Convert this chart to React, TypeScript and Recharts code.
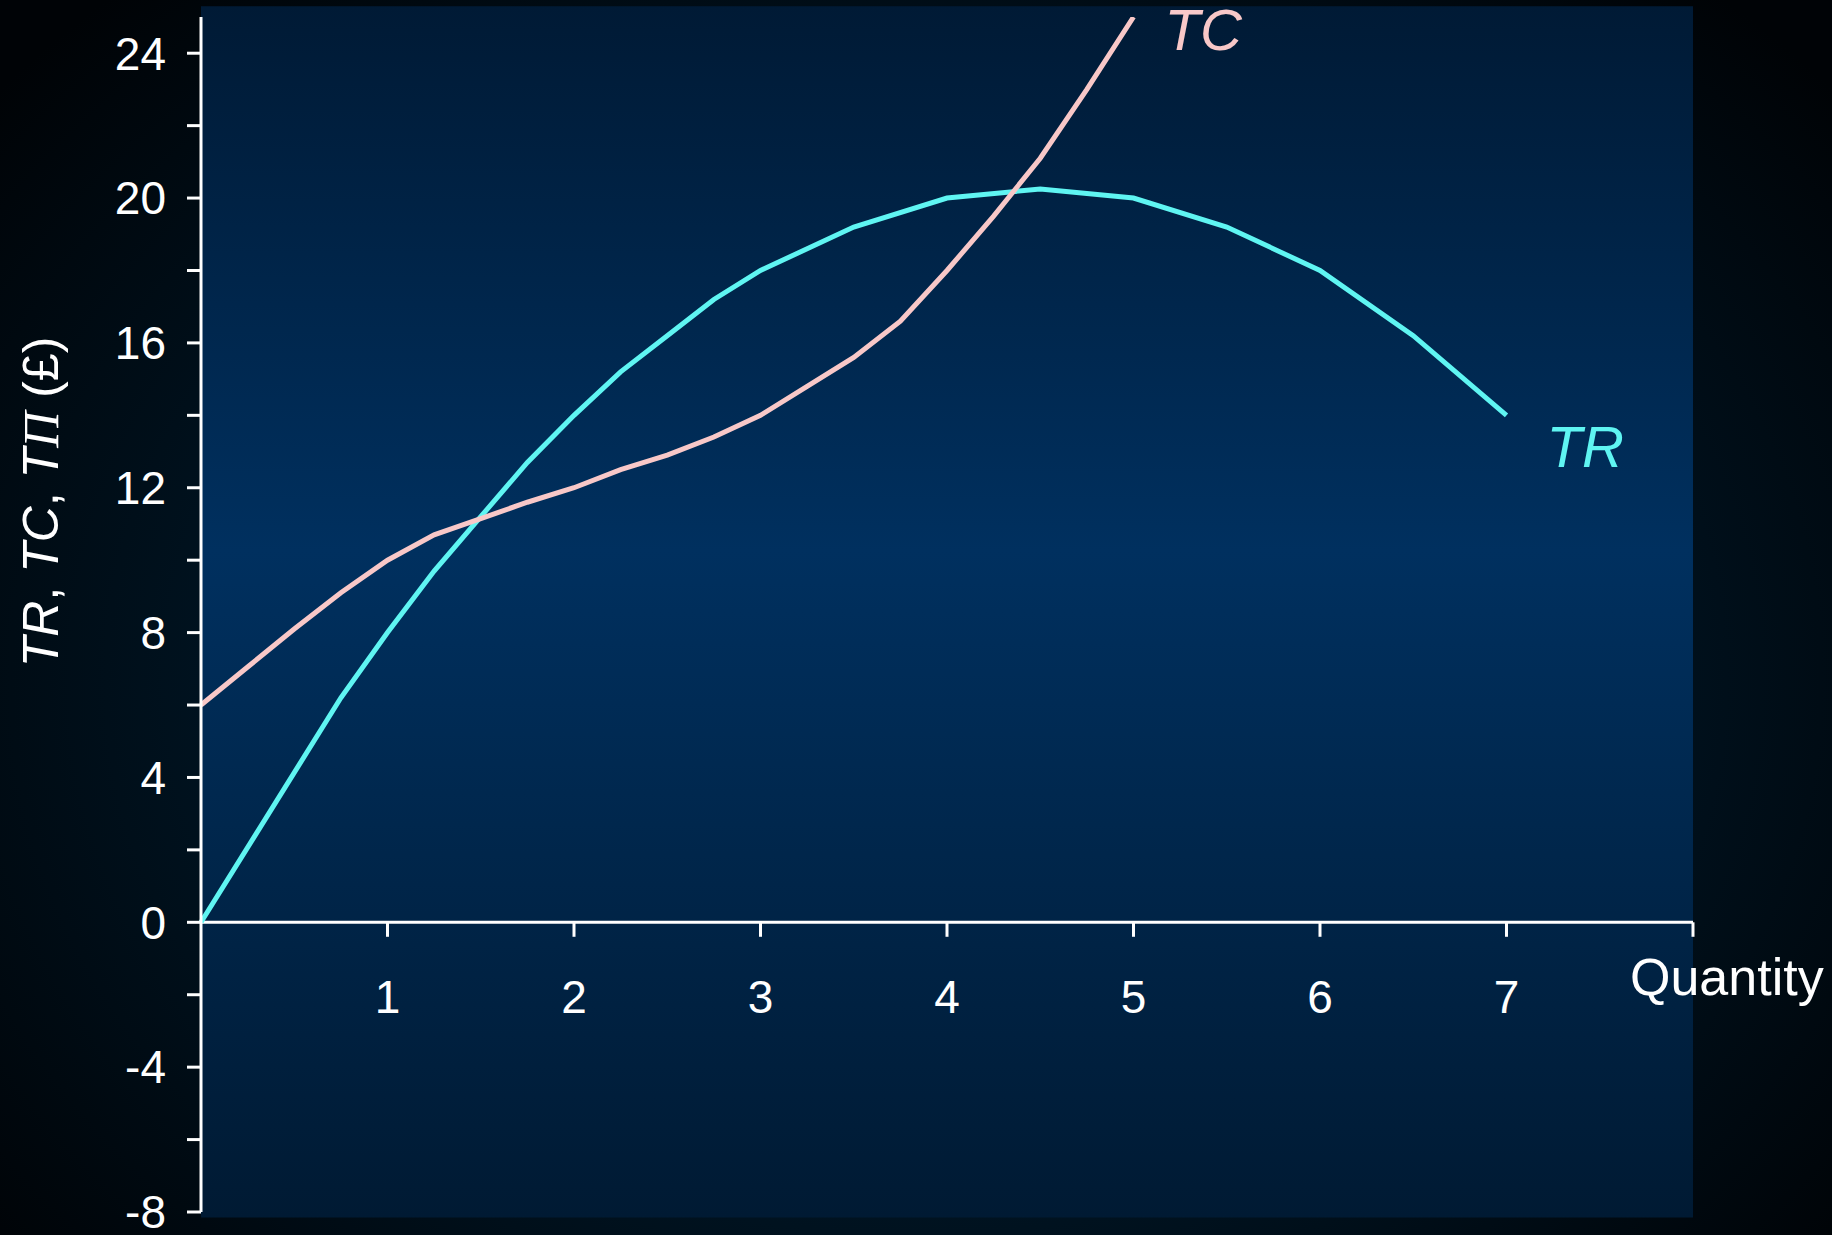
import React from 'react'
import { LineChart, Line, XAxis, YAxis, ReferenceArea, ReferenceLine, LabelList } from 'recharts'

const FONT = '"Liberation Sans", Arial, sans-serif'

// quantity / total revenue
const trQuantity = [0, 0.75, 1, 1.25, 1.5, 1.75, 2, 2.25, 2.5, 2.75, 3, 3.5, 4, 4.5, 5, 5.5, 6, 6.5, 7]
const trValues = [0, 6.2, 8, 9.7, 11.2, 12.7, 14, 15.2, 16.2, 17.2, 18, 19.2, 20, 20.25, 20, 19.2, 18, 16.2, 14]

// quantity / total cost
const tcQuantity = [0, 0.25, 0.5, 0.75, 1, 1.25, 1.5, 1.75, 2, 2.25, 2.5, 2.75, 3, 3.25, 3.5, 3.75, 4, 4.25, 4.5, 4.75, 5]
const tcValues = [6, 7.05, 8.1, 9.1, 10, 10.7, 11.15, 11.6, 12, 12.5, 12.9, 13.4, 14, 14.8, 15.6, 16.6, 18, 19.5, 21.1, 23, 25]

const yTicks = [-8, -6, -4, -2, 0, 2, 4, 6, 8, 10, 12, 14, 16, 18, 20, 22, 24]
const xTicks = [1, 2, 3, 4, 5, 6, 7, 8]
const xTickLabels = ['1', '2', '3', '4', '5', '6', '7', '']

const TR_COLOR = '#5ff5f2'
const TC_COLOR = '#f8c8c8'

const trData = trQuantity.map((q, i) => ({ q, tr: trValues[i] }))
const tcData = tcQuantity.map((q, i) => ({ q, tc: tcValues[i] }))

function AxisTitle(props: any) {
  const vb = props.viewBox || { x: 0, y: 0 }
  const cx = vb.x + 41
  const cy = vb.y + 485
  return (
    <text
      x={cx}
      y={cy}
      transform={`rotate(-90, ${cx}, ${cy})`}
      textAnchor="middle"
      dominantBaseline="central"
      fill="#fff"
      fontSize={50}
      fontFamily={FONT}
    >
      <tspan fontStyle="italic">TR</tspan>
      {', '}
      <tspan fontStyle="italic">TC</tspan>
      {', '}
      <tspan fontStyle="italic">T</tspan>
      <tspan fontStyle="italic" fontFamily='"Liberation Serif", serif'>Π</tspan>
      {' (£)'}
    </text>
  )
}

function QuantityLabel(props: any) {
  const vb = props.viewBox || { x: 0, y: 0, width: 0 }
  return (
    <text x={vb.x + vb.width - 63} y={vb.y + 73} fill="#fff" fontSize={52} fontFamily={FONT}>
      Quantity
    </text>
  )
}

function endLabel(text: string, color: string, lastIndex: number, dx: number, dy: number) {
  return (p: any) => {
    if (p.index !== lastIndex) return null
    const x = p.viewBox?.x ?? p.x
    const y = p.viewBox?.y ?? p.y
    return (
      <text x={x + dx} y={y + dy} fill={color} fontSize={58} fontStyle="italic" fontFamily={FONT}>
        {text}
      </text>
    )
  }
}

export default function App() {
  return (
    <div
      style={{
        position: 'absolute',
        left: 0,
        top: 0,
        width: 1832,
        height: 1235,
        overflow: 'hidden',
        background: 'radial-gradient(ellipse 65% 75% at 50% 55%, #00223f 0%, #00121f 60%, #000306 100%)',
      }}
    >
      <LineChart width={1832} height={1235} margin={{ top: 17, right: 139, bottom: 23, left: 0 }}>
        <defs>
          <linearGradient id="plotBg" x1="0" y1="0" x2="0" y2="1">
            <stop offset="0%" stopColor="#001a35" />
            <stop offset="45%" stopColor="#00305f" />
            <stop offset="100%" stopColor="#001a33" />
          </linearGradient>
        </defs>
        <XAxis dataKey="q" type="number" domain={[0, 8]} hide allowDuplicatedCategory={false} />
        <YAxis
          type="number"
          domain={[-8, 25]}
          ticks={yTicks}
          interval={0}
          allowDataOverflow
          width={201}
          tickSize={14}
          tickMargin={21}
          tickFormatter={(v: number) => (v % 4 === 0 ? String(v) : '')}
          axisLine={{ stroke: '#fff', strokeWidth: 3 }}
          tickLine={{ stroke: '#fff', strokeWidth: 3 }}
          tick={{ fill: '#fff', fontSize: 46, fontFamily: FONT }}
          label={{ content: AxisTitle }}
        />
        <ReferenceArea x1={0} x2={8} y1={-8.15} y2={25.3} ifOverflow="visible" fill="url(#plotBg)" fillOpacity={1} stroke="none" />
        <ReferenceLine y={0} stroke="#fff" strokeWidth={3} label={{ content: QuantityLabel }} />
        {xTicks.map((q, i) => (
          <ReferenceLine
            key={q}
            segment={[{ x: q, y: 0 }, { x: q, y: -0.4 }]}
            stroke="#fff"
            strokeWidth={3}
            label={{ value: xTickLabels[i], position: 'bottom', offset: 44, fill: '#fff', fontSize: 46, fontFamily: FONT }}
          />
        ))}
        <Line
          data={trData}
          dataKey="tr"
          type="linear"
          stroke={TR_COLOR}
          strokeWidth={5}
          dot={false}
          isAnimationActive={false}
        >
          <LabelList dataKey="tr" content={endLabel('TR', TR_COLOR, trData.length - 1, 40, 52)} />
        </Line>
        <Line
          data={tcData}
          dataKey="tc"
          type="linear"
          stroke={TC_COLOR}
          strokeWidth={5}
          dot={false}
          isAnimationActive={false}
        >
          <LabelList dataKey="tc" content={endLabel('TC', TC_COLOR, tcData.length - 1, 31, 33)} />
        </Line>
      </LineChart>
    </div>
  )
}
